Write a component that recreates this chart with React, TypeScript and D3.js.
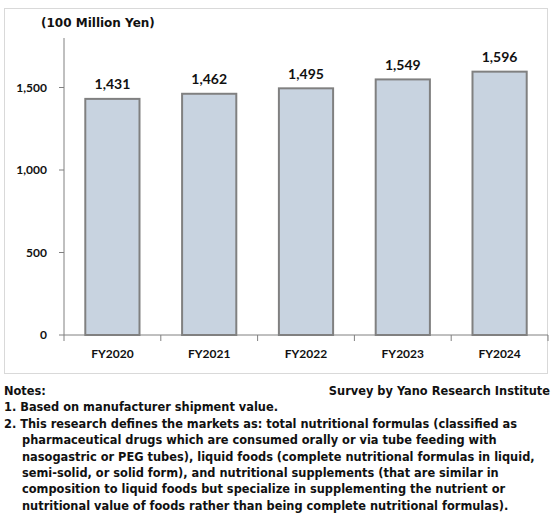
import React, { useRef, useEffect } from "react"
import * as d3 from "d3"

const categories = ["FY2020", "FY2021", "FY2022", "FY2023", "FY2024"]
const values = [1431, 1462, 1495, 1549, 1596]
const yTicks = [0, 500, 1000, 1500]
const unitLabel = "(100 Million Yen)"
const sourceLabel = "Survey by Yano Research Institute"
const notes = [
  "Notes:",
  "1. Based on manufacturer shipment value.",
  "2. This research defines the markets as: total nutritional formulas (classified as",
  "pharmaceutical drugs which are consumed orally or via tube feeding with",
  "nasogastric or PEG tubes), liquid foods (complete nutritional formulas in liquid,",
  "semi-solid, or solid form), and nutritional supplements (that are similar in",
  "composition to liquid foods but specialize in supplementing the nutrient or",
  "nutritional value of foods rather than being complete nutritional formulas).",
]

const W = 554
const H = 514
const FONT = "Lato, 'DejaVu Sans', sans-serif"
const NOTE_FONT = "'DejaVu Sans', sans-serif"

const App: React.FC = () => {
  const svgRef = useRef<SVGSVGElement>(null)

  useEffect(() => {
    const svg = d3.select(svgRef.current)
    svg.selectAll("*").remove()

    const x = d3.scaleBand<string>()
      .domain(categories)
      .range([64, 548])
      .paddingInner(0.44)
      .paddingOuter(0.22)

    const y = d3.scaleLinear()
      .domain([0, 1800])
      .range([335, 38])

    const base = y(0)

    // chart frame
    svg.append("rect")
      .attr("x", 4.5).attr("y", 8.5)
      .attr("width", 543).attr("height", 365)
      .attr("fill", "#fff")
      .attr("stroke", "#d9d9d9")

    svg.append("text")
      .attr("x", 41).attr("y", 23)
      .attr("dy", "0.35em")
      .attr("font-family", NOTE_FONT)
      .attr("font-size", 12)
      .attr("font-weight", "bold")
      .text(unitLabel)

    // bars
    svg.append("g").selectAll("rect")
      .data(values)
      .enter().append("rect")
      .attr("x", (d, i) => x(categories[i]))
      .attr("y", d => y(d))
      .attr("width", x.bandwidth())
      .attr("height", d => base - y(d))
      .attr("fill", "#c8d3e0")
      .attr("stroke", "#808080")
      .attr("stroke-width", 2)

    svg.append("g").selectAll("text")
      .data(values)
      .enter().append("text")
      .attr("x", (d, i) => x(categories[i]) + x.bandwidth() / 2)
      .attr("y", d => y(d) - 9.5)
      .attr("text-anchor", "middle")
      .attr("font-size", 14)
      .attr("font-weight", "bold")
      .text(d => d3.format(",")(d))

    // y axis
    const axis = svg.append("g").attr("stroke", "#808080")
    axis.append("line")
      .attr("x1", 64).attr("x2", 64)
      .attr("y1", y(1800)).attr("y2", base + 6)
    axis.selectAll(".yt")
      .data(yTicks)
      .enter().append("line")
      .attr("x1", 59).attr("x2", 64)
      .attr("y1", d => y(d)).attr("y2", d => y(d))

    svg.append("g").selectAll("text")
      .data(yTicks)
      .enter().append("text")
      .attr("x", 47)
      .attr("y", d => y(d))
      .attr("dy", "0.35em")
      .attr("text-anchor", "end")
      .attr("font-size", 12)
      .attr("font-weight", "bold")
      .text(d => d3.format(",")(d))

    // x axis
    axis.append("line")
      .attr("x1", 64).attr("x2", 548)
      .attr("y1", base).attr("y2", base)
    axis.selectAll(".xt")
      .data(d3.range(1, categories.length + 1))
      .enter().append("line")
      .attr("x1", i => 64 + x.step() * i).attr("x2", i => 64 + x.step() * i)
      .attr("y1", base).attr("y2", base + 6)

    svg.append("g").selectAll("text")
      .data(categories)
      .enter().append("text")
      .attr("x", d => x(d) + x.bandwidth() / 2)
      .attr("y", 354)
      .attr("dy", "0.35em")
      .attr("text-anchor", "middle")
      .attr("font-size", 12)
      .attr("font-weight", "bold")
      .text(d => d)

    // notes
    const notesG = svg.append("g")
      .attr("font-family", NOTE_FONT)
      .attr("font-size", 11.4)
      .attr("font-weight", "bold")

    notesG.append("text")
      .attr("x", 550).attr("y", 391)
      .attr("dy", "0.35em")
      .attr("text-anchor", "end")
      .text(sourceLabel)

    notesG.selectAll(".note")
      .data(notes)
      .enter().append("text")
      .attr("x", (d, i) => (i < 3 ? 4 : 22))
      .attr("y", (d, i) => 391 + i * 16.4)
      .attr("dy", "0.35em")
      .text(d => d)
  }, [])

  return (
    <svg
      ref={svgRef}
      width={W}
      height={H}
      style={{ position: "absolute", left: 0, top: 0, background: "#fff" }}
      fontFamily={FONT}
      fill="#111"
    />
  )
}

export default App
